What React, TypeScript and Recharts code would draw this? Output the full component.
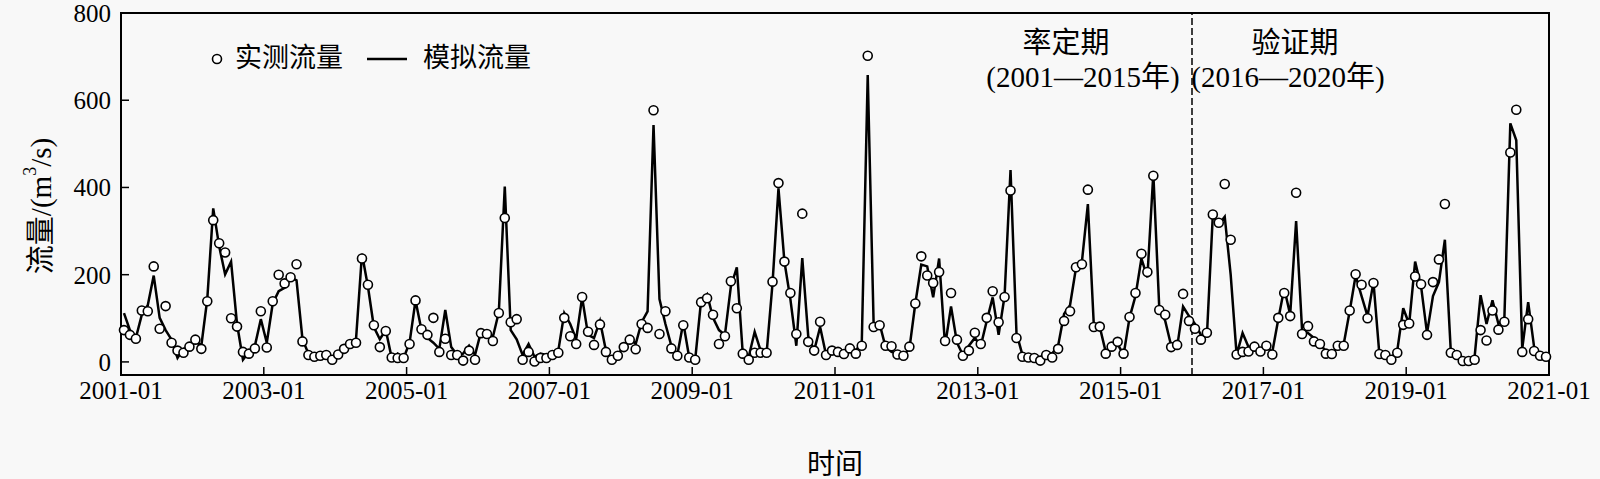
import React from 'react';
import { LineChart, Line, XAxis, YAxis, ReferenceLine, ReferenceArea, Legend, Customized } from 'recharts';

// monthly flow, 2001-01 .. 2020-12
const tickMonths = [0, 24, 48, 72, 96, 120, 144, 168, 192, 216, 240];
const tickLabels = ['2001-01', '2003-01', '2005-01', '2007-01', '2009-01', '2011-01', '2013-01', '2015-01', '2017-01', '2019-01', '2021-01'];
const yTicks = [0, 200, 400, 600, 800];
const splitMonth = 180; // 2016-01: calibration | validation

const observed = [
  73, 62, 53, 118, 116, 219, 76, 128, 44, 26,
  21, 35, 51, 30, 139, 325, 272, 251, 100, 81,
  23, 19, 31, 116, 33, 139, 200, 180, 194, 224,
  47, 16, 12, 14, 16, 5, 17, 30, 41, 44,
  237, 177, 84, 34, 71, 10, 9, 9, 41, 141,
  75, 62, 101, 23, 53, 16, 16, 3, 26, 5,
  66, 64, 48, 112, 330, 91, 98, 5, 23, 1,
  9, 9, 16, 21, 101, 59, 41, 149, 69, 39,
  86, 23, 5, 14, 34, 51, 29, 87, 78, 577,
  64, 116, 31, 14, 84, 10, 5, 137, 146, 108,
  41, 59, 185, 123, 19, 5, 21, 21, 21, 184,
  410, 230, 158, 64, 340, 46, 26, 92, 16, 26,
  23, 18, 31, 19, 37, 702, 80, 84, 37, 36,
  17, 14, 35, 134, 242, 198, 181, 206, 48, 158,
  51, 14, 26, 67, 41, 101, 162, 91, 149, 393,
  55, 12, 10, 9, 3, 16, 10, 30, 94, 116,
  217, 224, 395, 80, 81, 19, 35, 46, 19, 103,
  158, 248, 206, 427, 119, 108, 34, 39, 156, 94,
  76, 51, 67, 338, 319, 408, 280, 17, 23, 24,
  35, 24, 37, 17, 101, 158, 105, 388, 64, 82,
  47, 41, 19, 18, 37, 37, 118, 201, 177, 100,
  181, 18, 16, 5, 21, 85, 88, 196, 178, 62,
  183, 235, 362, 21, 16, 2, 2, 5, 73, 49,
  118, 74, 92, 480, 578, 23, 98, 25, 14, 12,
];

const simulated = [
  112, 73, 55, 108, 130, 198, 101, 73, 51, 9,
  30, 34, 48, 37, 144, 352, 265, 201, 230, 87,
  5, 23, 37, 98, 44, 134, 162, 170, 194, 187,
  52, 19, 16, 12, 19, 9, 16, 23, 37, 52,
  248, 173, 80, 52, 73, 9, 19, 9, 44, 141,
  73, 55, 44, 30, 119, 34, 16, 19, 37, 16,
  69, 69, 57, 114, 402, 73, 52, 16, 41, 12,
  19, 16, 19, 26, 112, 87, 52, 148, 62, 55,
  94, 26, 2, 16, 37, 55, 41, 91, 116, 543,
  144, 87, 37, 16, 90, 10, 5, 141, 155, 101,
  73, 62, 173, 217, 19, 12, 69, 26, 19, 180,
  398, 230, 144, 37, 238, 59, 26, 80, 16, 30,
  23, 16, 30, 26, 44, 658, 82, 87, 34, 23,
  19, 16, 30, 134, 223, 219, 148, 237, 37, 127,
  44, 16, 37, 55, 37, 94, 148, 62, 151, 440,
  66, 16, 12, 16, 2, 23, 19, 37, 110, 130,
  215, 230, 362, 84, 80, 23, 37, 41, 16, 101,
  151, 237, 194, 432, 123, 94, 37, 34, 127, 105,
  87, 62, 59, 337, 315, 333, 200, 16, 66, 34,
  37, 26, 34, 23, 98, 169, 108, 323, 73, 66,
  55, 44, 23, 16, 37, 41, 116, 198, 151, 105,
  183, 16, 19, 9, 26, 123, 87, 230, 173, 66,
  151, 183, 280, 23, 16, 5, 5, 12, 153, 87,
  141, 87, 100, 547, 508, 30, 137, 34, 16, 12,
];

// points sit at mid-month
const data = observed.map((v, i) => ({ m: i + 0.5, obs: v, sim: simulated[i] }));

const font = "'Liberation Serif', 'Noto Sans CJK SC', serif";

const YLabel = () => {
  const cx = 41;
  const cy = 206;
  return (
    <text x={cx} y={cy} transform={`rotate(-90 ${cx} ${cy})`} textAnchor="middle" dominantBaseline="central" fontSize={29} fontFamily={font} fill="#000">
      流量/(m<tspan dy={-11} fontSize={18}>3</tspan><tspan dy={11}>/s)</tspan>
    </text>
  );
};

const XLabel = ({ viewBox }: any) => (
  <text x={viewBox.x + viewBox.width / 2} y={464} textAnchor="middle" dominantBaseline="central" fontSize={28} fontFamily={font} fill="#000">
    时间
  </text>
);

const LegendBox = () => (
  <div style={{ display: 'flex', alignItems: 'center', fontFamily: font, fontSize: 27, lineHeight: '27px', color: '#000', whiteSpace: 'nowrap' }}>
    <svg width={12} height={12}><circle cx={6} cy={6} r={4.5} fill="#fff" stroke="#000" strokeWidth={1.6} /></svg>
    <span style={{ marginLeft: 12 }}>实测流量</span>
    <svg width={40} height={12} style={{ marginLeft: 24 }}><line x1={0} y1={6} x2={40} y2={6} stroke="#000" strokeWidth={2.5} /></svg>
    <span style={{ marginLeft: 16 }}>模拟流量</span>
  </div>
);

const PeriodNotes = () => (
  <g fontFamily={font} fontSize={29} fill="#000" textAnchor="middle">
    <text x={1066} y={43} dominantBaseline="central">率定期</text>
    <text x={1083} y={77} dominantBaseline="central">(2001—2015年)</text>
    <text x={1295} y={43} dominantBaseline="central">验证期</text>
    <text x={1288} y={77} dominantBaseline="central">(2016—2020年)</text>
  </g>
);

export default function App() {
  return (
    <div style={{ position: 'absolute', left: 0, top: 0, width: 1600, height: 479, background: '#f8f8f8' }}>
      <LineChart width={1600} height={479} data={data} margin={{ top: 13, right: 51, bottom: 0, left: 0 }}>
        <ReferenceArea x1={0} x2={240} y1={-30} y2={800} fill="none" stroke="#000" strokeWidth={2} />
        <XAxis
          dataKey="m"
          type="number"
          domain={[0, 240]}
          ticks={tickMonths}
          tickFormatter={(v: number) => tickLabels[tickMonths.indexOf(v)]}
          height={77}
          interval={0}
          tickSize={-8}
          tickMargin={14}
          axisLine={{ stroke: '#000', strokeWidth: 2 }}
          tickLine={{ stroke: '#000', strokeWidth: 1.5 }}
          tick={{ fill: '#000', fontSize: 25, fontFamily: font }}
          label={<XLabel />}
        />
        <YAxis
          domain={[-30, 800]}
          ticks={yTicks}
          width={121}
          interval={0}
          tickSize={-8}
          tickMargin={18}
          axisLine={{ stroke: '#000', strokeWidth: 2 }}
          tickLine={{ stroke: '#000', strokeWidth: 1.5 }}
          tick={{ fill: '#000', fontSize: 25, fontFamily: font }}
          label={<YLabel />}
        />
        <ReferenceLine x={splitMonth} stroke="#000" strokeWidth={1.5} strokeDasharray="7 3" />
        <Line type="linear" dataKey="sim" stroke="#000" strokeWidth={2.5} dot={false} isAnimationActive={false} />
        <Line
          type="linear"
          dataKey="obs"
          stroke="none"
          dot={{ r: 4.5, fill: '#fff', stroke: '#000', strokeWidth: 1.6 }}
          activeDot={false}
          isAnimationActive={false}
        />
        <Legend content={<LegendBox />} wrapperStyle={{ position: 'absolute', left: 211, top: 45, width: 'auto' }} />
        <Customized component={PeriodNotes} />
      </LineChart>
    </div>
  );
}
